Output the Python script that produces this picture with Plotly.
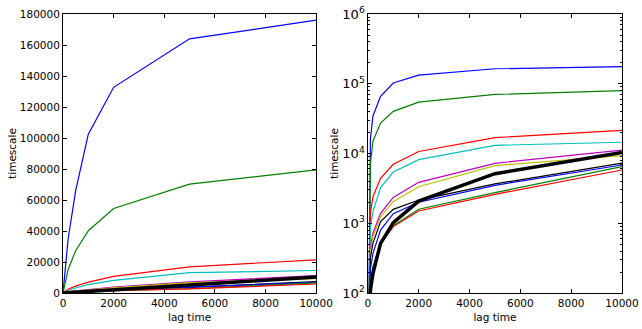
import plotly.graph_objects as go
from plotly.subplots import make_subplots

lag = [0, 100, 200, 500, 1000, 2000, 5000, 10000]

s_blue1 = [1, 16000, 34500, 66000, 102500, 132700, 164000, 176000]
s_green1 = [1, 7000, 15000, 27300, 40200, 54500, 70200, 79500]
s_red1 = [1, 1400, 2400, 4400, 7000, 10700, 16900, 21400]
s_cyan = [1, 900, 1470, 3240, 5430, 8170, 13100, 14500]
s_magenta = [1, 450, 720, 1390, 2350, 3860, 7230, 11200]
s_yellow = [1, 400, 640, 1240, 2040, 3340, 6700, 9300]
s_black = [1, 320, 515, 1055, 1580, 2150, 3660, 7300]
s_blue2 = [1, 220, 370, 800, 1370, 2000, 3500, 6840]
s_green2 = [1, 150, 240, 515, 920, 1590, 2750, 6470]
s_red2 = [1, 140, 215, 500, 895, 1500, 2600, 5800]
s_mean = [1, 110, 190, 515, 1020, 2080, 5140, 10300]

series = [s_blue1, s_green1, s_red1, s_cyan, s_magenta, s_yellow,
          s_black, s_blue2, s_green2, s_red2]
colors = ["#0000ff", "#008000", "#ff0000", "#00bfbf", "#bf00bf", "#bfbf00",
          "#000000", "#0000ff", "#008000", "#ff0000"]

fig = make_subplots(rows=1, cols=2)
for col in (1, 2):
    for s, c in zip(series, colors):
        fig.add_trace(go.Scatter(x=lag, y=s, mode="lines",
                                 line=dict(color=c, width=1.2),
                                 showlegend=False), row=1, col=col)
    fig.add_trace(go.Scatter(x=lag, y=s_mean, mode="lines",
                             line=dict(color="#000000", width=3.5),
                             showlegend=False), row=1, col=col)

W, H = 642, 329
L, R, T, B = 63, W - 621.7, 14, H - 293
PW = W - L - R
font = dict(family="DejaVu Sans", size=10.5, color="black")
common = dict(showgrid=False, zeroline=False, showline=True, linecolor="black",
              linewidth=1, mirror="ticks", ticks="inside", ticklen=4,
              tickcolor="black", tickfont=font, automargin=False)

fig.update_layout(
    template="none",
    width=W, height=H, margin=dict(l=L, r=R, t=T, b=B, pad=0),
    paper_bgcolor="white", plot_bgcolor="white", font=font,
    xaxis=dict(domain=[0, (316 - L) / PW], range=[0, 10000], dtick=2000,
               tickformat="d", title=dict(text="lag time", font=font, standoff=6), **common),
    xaxis2=dict(domain=[(367.7 - L) / PW, 1], range=[0, 10000], dtick=2000,
                tickformat="d", title=dict(text="lag time", font=font, standoff=6), **common),
    yaxis=dict(domain=[0, 1], range=[0, 180000], dtick=20000, tickformat="d",
               title=dict(text="timescale", font=font, standoff=1), **common),
    yaxis2=dict(domain=[0, 1], type="log", range=[2, 6], dtick=1,
                exponentformat="power",
                minor=dict(ticks="inside", ticklen=2, tickcolor="black", showgrid=False),
                title=dict(text="timescale", font=font, standoff=1), **common),
)

fig.write_html("out.html")
